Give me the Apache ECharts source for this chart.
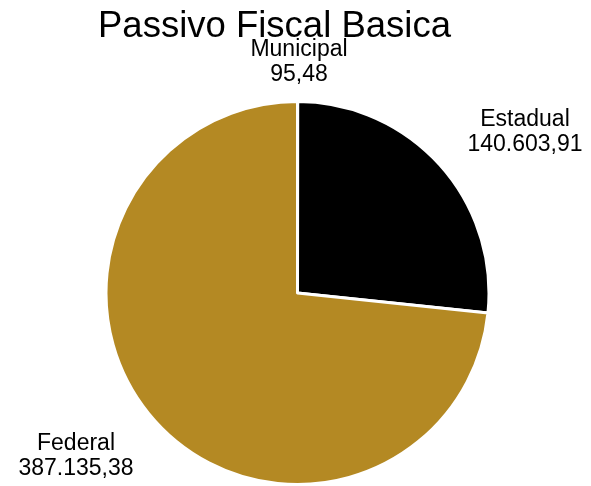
<!DOCTYPE html>
<html>
<head>
<meta charset="utf-8">
<script src="https://cdn.jsdelivr.net/npm/echarts@6/dist/echarts.min.js"></script>
<style>
html,body{margin:0;padding:0;background:#fff;}
#chart{width:591px;height:486px;}
</style>
</head>
<body>
<div id="chart"></div>
<script>
const titleText = 'Passivo Fiscal Basica';
const categories = ['Municipal', 'Estadual', 'Federal'];
const values = [95.48, 140603.91, 387135.38];
const colors = ['#B48923', '#000000', '#B48923'];

function fmtBR(v) {
  const parts = v.toFixed(2).split('.');
  const intPart = parts[0].replace(/\B(?=(\d{3})+(?!\d))/g, '.');
  return intPart + ',' + parts[1];
}

// label block centers (pixels)
const labelPos = [[299, 62], [525, 132], [76, 456]];

const chart = echarts.init(document.getElementById('chart'), null, {renderer: 'canvas'});
chart.setOption({
  animation: false,
  backgroundColor: '#ffffff',
  title: {
    text: titleText,
    left: 93,
    top: 3,
    textStyle: {fontFamily: 'Liberation Sans', fontSize: 36.5, fontWeight: 'normal', color: '#000'}
  },
  series: [{
    type: 'pie',
    center: [297.5, 293],
    radius: 191.5,
    startAngle: 90,
    clockwise: true,
    avoidLabelOverlap: false,
    itemStyle: {borderColor: '#ffffff', borderWidth: 3},
    label: {
      show: true,
      position: 'outside',
      formatter: p => p.name + '\n' + fmtBR(p.value),
      fontFamily: 'Liberation Sans',
      fontSize: 23,
      lineHeight: 25,
      color: '#000',
      align: 'center'
    },
    labelLine: {show: false},
    labelLayout: function (params) {
      const pos = labelPos[params.dataIndex];
      return {x: pos[0], y: pos[1], align: 'center', verticalAlign: 'middle'};
    },
    emphasis: {disabled: true},
    data: categories.map((c, i) => ({name: c, value: values[i], itemStyle: {color: colors[i]}}))
  }]
});
</script>
</body>
</html>
